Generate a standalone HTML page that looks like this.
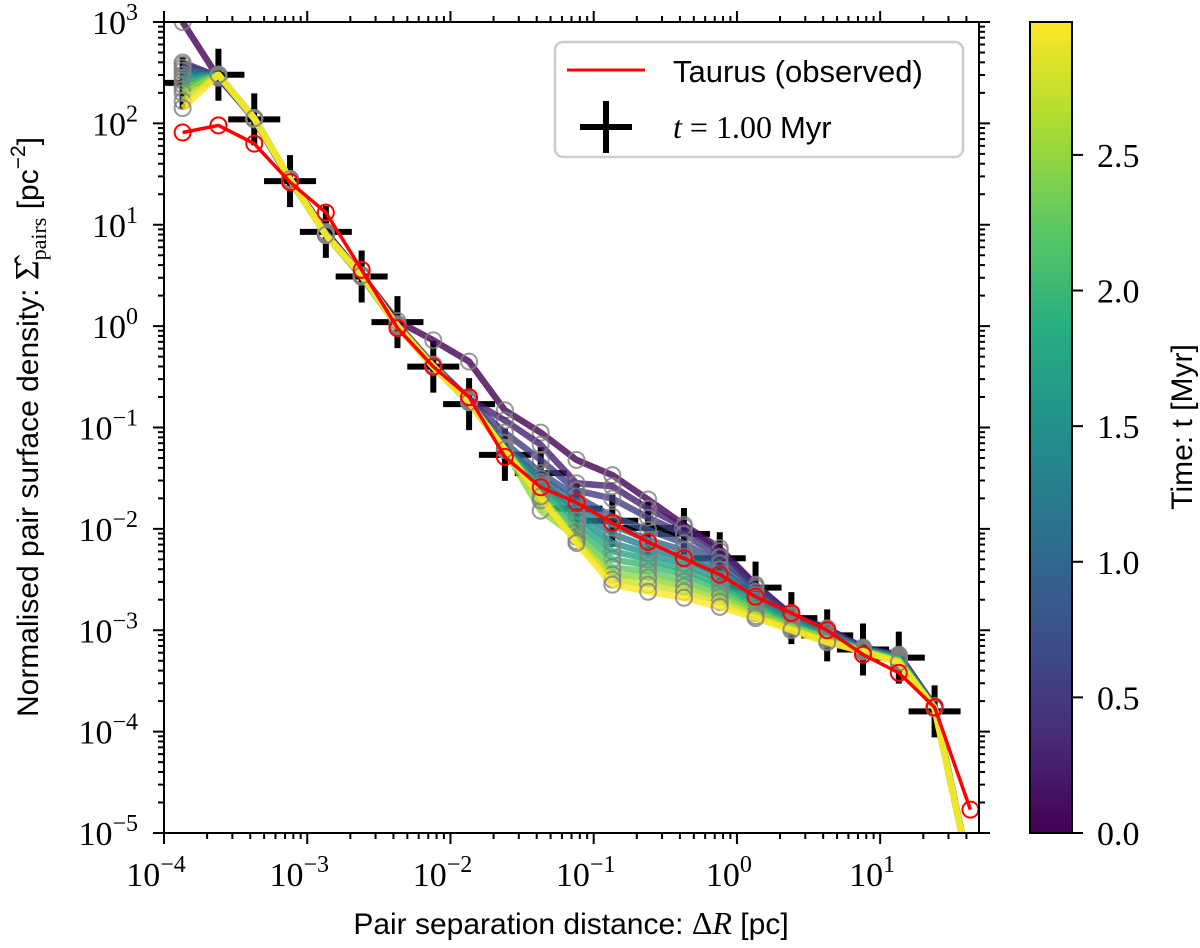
<!DOCTYPE html>
<html><head><meta charset="utf-8">
<style>
html,body{margin:0;padding:0;background:#fff;}
svg{display:block;}
.sans{font-family:"Liberation Sans","DejaVu Sans",sans-serif;}
.serif{font-family:"Liberation Serif","DejaVu Serif",serif;}
</style></head>
<body>
<svg id="chart" width="1200" height="948" viewBox="0 0 1200 948" xmlns="http://www.w3.org/2000/svg">
<defs>
<clipPath id="plotclip"><rect x="164" y="22" width="815" height="811"/></clipPath>
<linearGradient id="viridis" x1="0" y1="1" x2="0" y2="0">
<stop offset="0" stop-color="#440154"/><stop offset="0.125" stop-color="#472d7b"/><stop offset="0.25" stop-color="#3b528b"/><stop offset="0.375" stop-color="#2c728e"/><stop offset="0.5" stop-color="#21918c"/><stop offset="0.625" stop-color="#28ae80"/><stop offset="0.75" stop-color="#5ec962"/><stop offset="0.875" stop-color="#addc30"/><stop offset="1" stop-color="#fde725"/>
</linearGradient>
</defs>
<rect x="0" y="0" width="1200" height="948" fill="#fff"/>
<g id="marks" clip-path="url(#plotclip)"></g>
<rect x="164" y="22" width="815" height="811" fill="none" stroke="#000" stroke-width="2"/>
<g id="axes"></g>

<g>
<rect x="555" y="42" width="408" height="115" rx="8" fill="#fff" fill-opacity="0.85" stroke="#cccccc" stroke-width="2.5"/>
<line x1="567" y1="70" x2="645" y2="70" stroke="#ff0000" stroke-width="3"/>
<text x="673" y="82" class="sans" font-size="31">Taurus (observed)</text>
<line x1="580" y1="127" x2="632" y2="127" stroke="#000" stroke-width="6"/>
<line x1="606" y1="101" x2="606" y2="153" stroke="#000" stroke-width="6"/>
<text x="673" y="138" font-size="32"><tspan class="serif" font-style="italic">t</tspan><tspan class="serif"> = 1.00 </tspan><tspan class="sans" font-size="31">Myr</tspan></text>
</g>

<g>
<rect x="1030" y="22" width="42" height="811" fill="url(#viridis)" stroke="#000" stroke-width="2"/>
<g id="cbticks"></g>
<text transform="translate(1192,427) rotate(-90)" text-anchor="middle" class="sans" font-size="30">Time: t [Myr]</text>
</g>

<text x="571" y="934" text-anchor="middle" font-size="30"><tspan class="sans">Pair separation distance: </tspan><tspan class="serif" font-size="32">Δ</tspan><tspan class="serif" font-style="italic" font-size="32">R</tspan><tspan class="sans"> [pc]</tspan></text>
<text transform="translate(38,427) rotate(-90)" text-anchor="middle" font-size="30"><tspan class="sans">Normalised pair surface density: </tspan><tspan class="serif" font-size="34">Σ̂</tspan><tspan class="serif" font-size="22" dy="8">pairs</tspan><tspan class="sans" dy="-8"> [pc</tspan><tspan class="sans" font-size="21" dy="-13">−2</tspan><tspan class="sans" dy="13">]</tspan></text>
</svg>
<script>
// ---- data (log10 values) ----
const logSeparation = [-3.87,-3.62,-3.37,-3.12,-2.87,-2.62,-2.37,-2.12,-1.87,-1.62,-1.37,-1.12,-0.87,-0.62,-0.37,-0.12,0.13,0.38,0.63,0.88,1.13,1.38,1.63];
const taurusLogDensity = [1.91,1.98,1.80,1.42,1.12,0.555,-0.02,-0.40,-0.70,-1.29,-1.59,-1.74,-1.94,-2.13,-2.29,-2.45,-2.67,-2.83,-3.00,-3.24,-3.42,-3.76,-4.77];
const snapshotLogDensity = [2.40,2.48,2.04,1.43,0.93,0.49,0.04,-0.40,-0.77,-1.27,-1.45,-1.80,-1.92,-1.99,-2.05,-2.29,-2.58,-2.88,-3.05,-3.19,-3.27,-3.80];
const modelTimes = [0.00,0.25,0.50,0.75,1.00,1.25,1.50,1.75,2.00,2.25,2.50,2.75,2.99];
const modelLogDensity = [
 [3.00,2.45,2.05,1.45,0.93,0.50,0.05,-0.14,-0.35,-0.83,-1.05,-1.32,-1.47,-1.71,-1.96,-2.19,-2.55,-2.85,-2.98,-3.17,-3.24,-3.75,-5.4],
 [2.60,2.46,2.05,1.44,0.92,0.50,0.02,-0.38,-0.72,-0.93,-1.17,-1.55,-1.58,-1.80,-1.98,-2.22,-2.56,-2.86,-2.99,-3.18,-3.25,-3.75,-5.4],
 [2.58,2.46,2.04,1.44,0.92,0.49,0.01,-0.39,-0.73,-1.05,-1.32,-1.62,-1.70,-1.89,-2.05,-2.28,-2.58,-2.87,-3.00,-3.18,-3.25,-3.76,-5.4],
 [2.55,2.47,2.04,1.44,0.91,0.49,0.00,-0.39,-0.74,-1.15,-1.45,-1.68,-1.88,-2.01,-2.14,-2.34,-2.62,-2.88,-3.01,-3.18,-3.26,-3.76,-5.4],
 [2.52,2.47,2.05,1.45,0.91,0.49,0.00,-0.40,-0.74,-1.20,-1.50,-1.74,-1.96,-2.11,-2.21,-2.40,-2.65,-2.90,-3.02,-3.19,-3.26,-3.76,-5.4],
 [2.48,2.47,2.05,1.45,0.91,0.49,0.00,-0.40,-0.75,-1.21,-1.54,-1.80,-2.05,-2.18,-2.28,-2.45,-2.68,-2.91,-3.03,-3.19,-3.27,-3.76,-5.4],
 [2.45,2.47,2.05,1.45,0.90,0.49,0.00,-0.40,-0.75,-1.22,-1.57,-1.86,-2.14,-2.24,-2.34,-2.50,-2.71,-2.92,-3.05,-3.19,-3.28,-3.77,-5.4],
 [2.42,2.48,2.05,1.45,0.90,0.49,0.00,-0.40,-0.75,-1.22,-1.60,-1.92,-2.22,-2.30,-2.40,-2.55,-2.74,-2.94,-3.06,-3.20,-3.28,-3.77,-5.4],
 [2.38,2.48,2.05,1.45,0.90,0.50,0.00,-0.40,-0.75,-1.22,-1.62,-1.98,-2.30,-2.36,-2.45,-2.59,-2.77,-2.95,-3.07,-3.20,-3.29,-3.77,-5.4],
 [2.34,2.48,2.05,1.45,0.90,0.50,0.00,-0.40,-0.75,-1.22,-1.70,-2.03,-2.38,-2.42,-2.52,-2.63,-2.80,-2.96,-3.08,-3.20,-3.30,-3.77,-5.4],
 [2.30,2.48,2.05,1.45,0.90,0.50,0.00,-0.40,-0.75,-1.22,-1.82,-2.08,-2.45,-2.48,-2.57,-2.67,-2.83,-2.97,-3.09,-3.21,-3.30,-3.77,-5.4],
 [2.22,2.48,2.05,1.45,0.90,0.50,0.00,-0.40,-0.75,-1.22,-1.72,-2.12,-2.50,-2.55,-2.62,-2.72,-2.86,-2.99,-3.11,-3.21,-3.31,-3.77,-5.4],
 [2.15,2.48,2.05,1.45,0.90,0.50,0.00,-0.40,-0.75,-1.22,-1.68,-2.14,-2.55,-2.62,-2.68,-2.77,-2.88,-3.00,-3.12,-3.21,-3.32,-3.77,-5.4]
];
const xTickExponents = ["−4","−3","−2","−1","0","1"];
const yTickExponents = ["3","2","1","0","−1","−2","−3","−4","−5"];
const cbTickLabels = ["0.0","0.5","1.0","1.5","2.0","2.5"];

// ---- axes ----
const X0=164, X1=979, Y0=22, Y1=833;
const xMin=-4, xMax=1.69, yMin=-5, yMax=3, tMin=0, tMax=2.99;
function X(l){return X0+(l-xMin)/(xMax-xMin)*(X1-X0);}
function Y(l){return Y0+(yMax-l)/(yMax-yMin)*(Y1-Y0);}
function T(t){return Y1-(t-tMin)/(tMax-tMin)*(Y1-Y0);}
const NS="http://www.w3.org/2000/svg";
function mk(tag,attrs,parent){const e=document.createElementNS(NS,tag);for(const k in attrs)e.setAttribute(k,attrs[k]);parent.appendChild(e);return e;}
const stops=[[68,1,84],[71,45,123],[59,82,139],[44,114,142],[33,145,140],[40,174,128],[94,201,98],[173,220,48],[253,231,37]];
function viridis(v){v=Math.max(0,Math.min(1,v));const p=v*8,i=Math.min(7,Math.floor(p)),f=p-i;const a=stops[i],b=stops[i+1];return "rgb("+a.map((c,j)=>Math.round(c+(b[j]-c)*f)).join(",")+")";}

const marks=document.getElementById('marks');
const axes=document.getElementById('axes');

// snapshot crosses (behind)
snapshotLogDensity.forEach((v,i)=>{
 const cx=X(logSeparation[i]), cy=Y(v);
 const g=mk('g',{},marks);
 
 
 mk('line',{x1:cx-26,y1:cy,x2:cx+26,y2:cy,stroke:'#000','stroke-width':6},g);
 mk('line',{x1:cx,y1:cy-26,x2:cx,y2:cy+26,stroke:'#000','stroke-width':6},g);
});

// model series
modelLogDensity.forEach((arr,s)=>{
 const col=viridis(modelTimes[s]/tMax);
 const g=mk('g',{},marks);
 
 
 const pts=arr.map((v,i)=>X(logSeparation[i]).toFixed(1)+","+Y(v).toFixed(1)).join(" ");
 const pl=mk('polyline',{points:pts,fill:'none',stroke:col,'stroke-width':6.5,'stroke-opacity':0.8,'stroke-linejoin':'round'},g);
 
 
 arr.forEach((v,i)=>{
  const c=mk('circle',{cx:X(logSeparation[i]),cy:Y(v),r:8,fill:'none',stroke:'#808080','stroke-width':2,'stroke-opacity':0.8},g);
  
  
 });
});

// Taurus
{
 const g=mk('g',{},marks);
 
 
 const pts=taurusLogDensity.map((v,i)=>X(logSeparation[i]).toFixed(1)+","+Y(v).toFixed(1)).join(" ");
 const pl=mk('polyline',{points:pts,fill:'none',stroke:'#ff0000','stroke-width':3.5,'stroke-linejoin':'round'},g);
 
 
 taurusLogDensity.forEach((v,i)=>{
  const c=mk('circle',{cx:X(logSeparation[i]),cy:Y(v),r:8,fill:'none',stroke:'#ff0000','stroke-width':2},g);
  
  
 });
}

// ticks
function tick(x1,y1,x2,y2){const l=mk('line',{x1,y1,x2,y2,stroke:'#000','stroke-width':2},axes);}
for(let d=-4; d<=1; d++){
 for(let m=1;m<=9;m++){
  const l=d+Math.log10(m); if(l>xMax) continue;
  const len=m===1?11:6; const x=X(l);
  tick(x,Y1,x,Y1+len); tick(x,Y0,x,Y0-len);
 }
}
for(let d=-5; d<=3; d++){
 for(let m=1;m<=9;m++){
  const l=d+Math.log10(m); if(l>yMax) continue;
  const len=m===1?11:6; const y=Y(l);
  tick(X0,y,X0-len,y); tick(X1,y,X1+len,y);
 }
}
xTickExponents.forEach((e,i)=>{
 const x=X(-4+i);
 const t=mk('text',{x:x-8,y:886,'text-anchor':'middle','font-size':34,class:'serif'},axes);
 
 
 const a=mk('tspan',{},t); a.textContent='10';
 const b=mk('tspan',{dy:-14,'font-size':24},t); b.textContent=e;
});
yTickExponents.forEach((e,i)=>{
 const y=Y(3-i);
 const t=mk('text',{x:138,y:y+12,'text-anchor':'end','font-size':34,class:'serif'},axes);
 
 
 const a=mk('tspan',{},t); a.textContent='10';
 const b=mk('tspan',{dy:-14,'font-size':24},t); b.textContent=e;
});
const cbt=document.getElementById('cbticks');
cbTickLabels.forEach(s=>{
 const y=T(parseFloat(s));
 const l=mk('line',{x1:1072,y1:y,x2:1083,y2:y,stroke:'#000','stroke-width':2},cbt);
 
 
 const t=mk('text',{x:1097,y:y+12,'font-size':34,class:'serif'},cbt);
 
 
 t.textContent=s;
});
</script>
</body></html>
